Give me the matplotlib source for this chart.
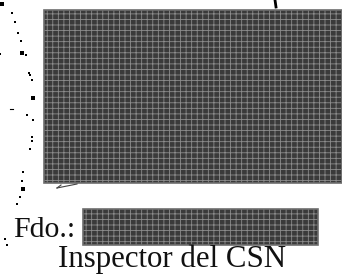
import matplotlib
matplotlib.use('Agg')
import matplotlib.pyplot as plt
import matplotlib.patches as mpatches
import numpy as np

# Textos del documento
firma_label = 'Fdo.:'
cargo_label = 'Inspector del CSN'

# Restos del sello (en pixeles)
sello_x = [2, 0, 12, 15, 18, 21, 22, 26, 29, 30, 32, 33, 27, 33, 32, 32, 30, 23, 22, 23, 20, 17, 5, 7]
sello_y = [4, 54, 13, 22, 33, 41, 53, 55, 73, 75, 80, 98, 115, 120, 137, 141, 149, 172, 181, 189, 197, 204, 239, 245]
sello_s = [6, 3, 3, 4, 4, 4, 5, 3, 3, 3, 3, 5, 3, 3, 4, 3, 3, 3, 3, 6, 3, 3, 2, 2]

# Zonas tachadas (x0, y0, x1, y1)
tachado_grande = (44, 10, 342, 183)
tachado_firma = (83, 209, 318, 245)

fig = plt.figure(figsize=(3.42, 2.78), dpi=100)
ax = fig.add_axes([0, 0, 1, 1])
ax.set_xlim(0, 342)
ax.set_ylim(278, 0)
ax.axis('off')

plt.rcParams['hatch.linewidth'] = 0.6
for x0, y0, x1, y1 in [tachado_grande, tachado_firma]:
    ax.add_patch(mpatches.Rectangle((x0, y0), x1 - x0, y1 - y0,
                                    facecolor='#3a3a3a', edgecolor='#8c8c8c',
                                    hatch='+++', linewidth=0))
    ax.add_patch(mpatches.Rectangle((x0, y0), x1 - x0, y1 - y0,
                                    facecolor='none', edgecolor='#6e6e6e',
                                    linewidth=1.2))

# sello
ax.scatter(sello_x, sello_y, s=sello_s, c='black', marker='s', linewidths=0)
ax.plot([10, 13], [109, 109], color='black', lw=0.8)
ax.plot([57, 77], [188, 184], color='#444444', lw=0.8)
ax.plot([57, 61], [188, 185], color='#444444', lw=0.8)
ax.plot([275, 276], [0, 7], color='black', lw=2)

ax.text(13, 237, firma_label, fontsize=21.5, family='Liberation Serif',
        ha='left', va='baseline', color='#111111')
ax.text(58, 267, cargo_label, fontsize=22.2, family='Liberation Serif',
        ha='left', va='baseline', color='#111111')

fig.savefig('out.png', dpi=100)
